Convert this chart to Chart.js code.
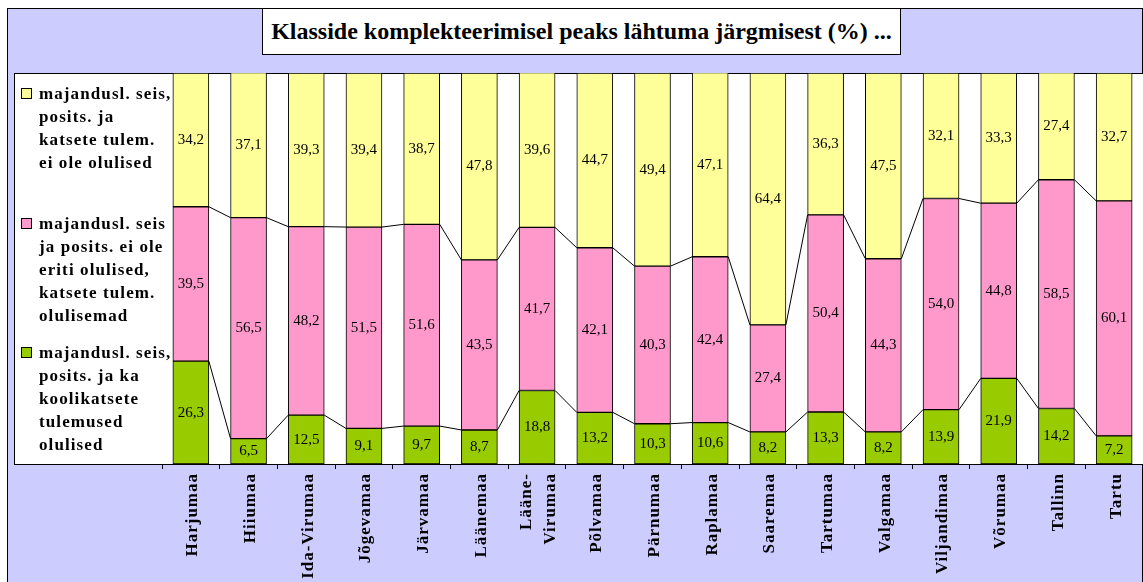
<!DOCTYPE html>
<html>
<head>
<meta charset="utf-8">
<script src="https://cdn.jsdelivr.net/npm/chart.js@4"></script>
<style>
body { margin: 0; background: #fff; }
#wrap { position: relative; width: 1143px; height: 582px; }
canvas { position: absolute; left: 0; top: 0; }
#title {
    position: absolute; left: 262px; top: 8px; width: 637px; height: 45px;
    border: 1px solid #000; background: #fff;
    font: bold 24px "Liberation Serif", "Times New Roman", serif; color: #000;
    display: flex; align-items: center; justify-content: center;
}
.leg { position: absolute; left: 21px; font: bold 17px "Liberation Serif", "Times New Roman", serif; line-height: 23px; letter-spacing: 1.1px; color: #000; }
.leg i { position: absolute; left: 0; top: 6px; width: 9px; height: 9px; border: 1px solid #000; }
.leg div { padding-left: 18px; white-space: nowrap; }
</style>
</head>
<body>
<div id="wrap">
    <canvas id="chart" width="1143" height="582"></canvas>
    <div id="title">Klasside komplekteerimisel peaks lähtuma järgmisest (%) ...</div>
    <div id="legend"></div>
</div>
<script>
const categories = ["Harjumaa", "Hiiumaa", "Ida-Virumaa", "Jõgevamaa", "Järvamaa", "Läänemaa", ["Lääne-", "Virumaa"],
    "Põlvamaa", "Pärnumaa", "Raplamaa", "Saaremaa", "Tartumaa", "Valgamaa", "Viljandimaa", "Võrumaa", "Tallinn", "Tartu"];

// bottom: majandusl. seis, posits. ja ka koolikatsete tulemused olulised
const important = [26.3, 6.5, 12.5, 9.1, 9.7, 8.7, 18.8, 13.2, 10.3, 10.6, 8.2, 13.3, 8.2, 13.9, 21.9, 14.2, 7.2];
// middle: ... katsete tulem. olulisemad
const exams = [39.5, 56.5, 48.2, 51.5, 51.6, 43.5, 41.7, 42.1, 40.3, 42.4, 27.4, 50.4, 44.3, 54.0, 44.8, 58.5, 60.1];
// top: ... ei ole olulised
const notImportant = [34.2, 37.1, 39.3, 39.4, 38.7, 47.8, 39.6, 44.7, 49.4, 47.1, 64.4, 36.3, 47.5, 32.1, 33.3, 27.4, 32.7];

const legendItems = [
    { color: "#FFFF99", top: 82, lines: ["majandusl. seis,", "posits. ja", "katsete tulem.", "ei ole olulised"] },
    { color: "#FF99CC", top: 212, lines: ["majandusl. seis", "ja posits. ei ole", "eriti olulised,", "katsete tulem.", "olulisemad"] },
    { color: "#99CC00", top: 341, lines: ["majandusl. seis,", "posits. ja ka", "koolikatsete", "tulemused", "olulised"] }
];

const SERIF = "'Liberation Serif', 'Times New Roman', serif";

// legend on the left
const legendDiv = document.getElementById("legend");
legendItems.forEach(item => {
    const d = document.createElement("div");
    d.className = "leg";
    d.style.top = item.top + "px";
    d.innerHTML = `<i style="background:${item.color}"></i>` + item.lines.map(l => `<div>${l}</div>`).join("");
    legendDiv.appendChild(d);
});

// background, frame and white plot box
const frame = {
    id: "frame",
    beforeDraw(chart) {
        const ctx = chart.ctx, a = chart.chartArea;
        ctx.save();
        ctx.fillStyle = "#fff";
        ctx.fillRect(0, 0, chart.width, chart.height);
        ctx.fillStyle = "#CCCCFF";
        ctx.fillRect(7, 8, chart.width - 7, chart.height - 8);
        ctx.strokeStyle = "#000";
        ctx.lineWidth = 1;
        ctx.strokeRect(7.5, 8.5, chart.width - 8, chart.height - 8);
        ctx.fillStyle = "#fff";
        ctx.fillRect(14, a.top, a.right - 14, a.bottom - a.top);
        ctx.strokeRect(14.5, a.top + 0.5, a.right - 14, a.bottom - a.top);
        ctx.restore();
    }
};

// series lines between bars, value labels, rotated category names
const extras = {
    id: "extras",
    afterDatasetsDraw(chart) {
        const ctx = chart.ctx;
        ctx.save();
        ctx.strokeStyle = "#000";
        ctx.lineWidth = 1;
        [0, 1].forEach(d => {
            const bars = chart.getDatasetMeta(d).data;
            for (let i = 0; i < bars.length - 1; i++) {
                const p = bars[i], q = bars[i + 1];
                ctx.beginPath();
                ctx.moveTo(p.x + p.width / 2, p.y);
                ctx.lineTo(q.x - q.width / 2, q.y);
                ctx.stroke();
            }
        });
        ctx.font = "15px " + SERIF;
        ctx.fillStyle = "#000";
        ctx.textAlign = "center";
        ctx.textBaseline = "middle";
        chart.data.datasets.forEach((ds, d) => {
            chart.getDatasetMeta(d).data.forEach((bar, i) => {
                const top = Math.max(bar.y, chart.chartArea.top);
                ctx.fillText(ds.data[i].toFixed(1).replace(".", ","), bar.x, (top + bar.base) / 2);
            });
        });

        const xs = chart.scales.x;
        ctx.font = "bold 17px " + SERIF;
        ctx.letterSpacing = "1px";
        ctx.textAlign = "right";
        categories.forEach((c, i) => {
            const lines = Array.isArray(c) ? c : [c];
            const x = xs.getPixelForValue(i) + 2;
            lines.forEach((l, k) => {
                ctx.save();
                ctx.translate(x + (k - (lines.length - 1) / 2) * 24, chart.chartArea.bottom + 9);
                ctx.rotate(-Math.PI / 2);
                ctx.fillText(l, 0, 0);
                ctx.restore();
            });
        });
        ctx.restore();
    }
};

const barStyle = { borderColor: "#000", borderWidth: 1, borderSkipped: false, barThickness: 36 };

new Chart(document.getElementById("chart"), {
    type: "bar",
    data: {
        labels: categories,
        datasets: [
            { label: "olulised", data: important, backgroundColor: "#99CC00", ...barStyle },
            { label: "olulisemad", data: exams, backgroundColor: "#FF99CC", ...barStyle },
            { label: "ei ole olulised", data: notImportant, backgroundColor: "#FFFF99", ...barStyle }
        ]
    },
    options: {
        responsive: false,
        animation: false,
        layout: { padding: { left: 162, top: 73, right: 0, bottom: 0 } },
        plugins: { legend: { display: false }, tooltip: { enabled: false } },
        scales: {
            x: {
                stacked: true,
                afterFit(scale) { scale.height = 118; },
                border: { color: "#000" },
                grid: { offset: true, drawOnChartArea: false, drawTicks: true, tickLength: 5, color: "#000" },
                ticks: { display: false, autoSkip: false }
            },
            y: { stacked: true, display: false, min: 0, max: 100 }
        }
    },
    plugins: [frame, extras]
});
</script>
</body>
</html>
